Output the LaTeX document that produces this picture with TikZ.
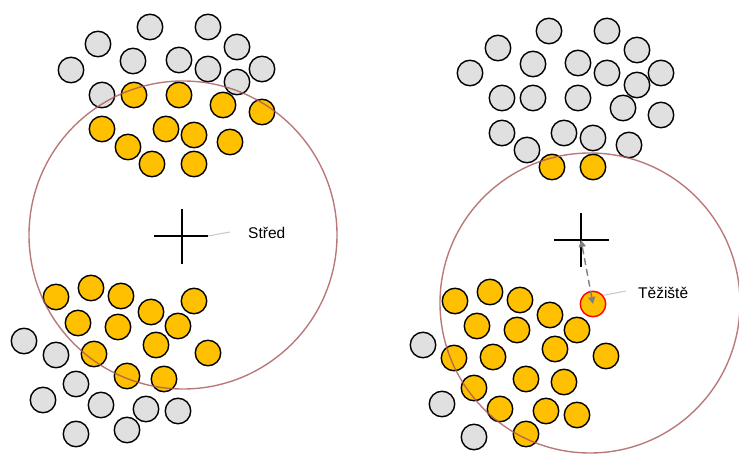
\documentclass[tikz,border=0pt]{standalone}
\usepackage{fontspec}
\setmainfont{Liberation Sans}
\usetikzlibrary{arrows.meta}
\definecolor{dotgold}{HTML}{FFC000}
\definecolor{dotgrey}{HTML}{E0E0E0}
\definecolor{rimred}{HTML}{A85858}
\definecolor{guide}{HTML}{808080}
\begin{document}
\begin{tikzpicture}[x=1pt,y=-1pt,
  dot/.style={circle,draw=black,line width=1.4pt,minimum size=25.5pt,inner sep=0pt},
  gold/.style={dot,fill=dotgold},
  grey/.style={dot,fill=dotgrey},
  rim/.style={circle,draw=rimred,draw opacity=0.8,line width=1.4pt,inner sep=0pt},
  crossbar/.style={line width=2.2pt,black},
  leader/.style={draw=black!22,line width=1pt},
  guidearrow/.style={draw=guide,line width=1.4pt,dash pattern=on 7pt off 4pt,
    {Triangle[length=7pt,width=7pt]}-{Triangle[length=7pt,width=7pt]}},
  lbl/.style={font=\fontsize{15.5}{18}\selectfont,anchor=base west,inner sep=0pt}]
\useasboundingbox (0,0) rectangle (739,454);

% ---- left panel: grey particles
\foreach \x/\y [count=\i] in {150/27,208/27,98/44,237/47,71/70,133/61,179/60,208/69,262/69,237/82,102/95,
  24/341,56/355,76/384,43/400,101/405,146/409,178/411,76/434,127/430}
  \node[grey] (lg\i) at (\x,\y) {};
% ---- left panel: gold particles
\foreach \x/\y [count=\i] in {134/95,179/95,223/105,262/112,102/129,166/129,194/135,230/142,128/147,152/164,194/164,
  56/297,91/288,121/296,151/312,194/301,78/323,118/327,178/326,156/345,208/353,94/354,127/376,164/379}
  \node[gold] (lo\i) at (\x,\y) {};

% ---- right panel: grey particles
\foreach \x/\y [count=\i] in {549/31,607/31,498/48,637/50,470/73,533/64,578/63,607/73,661/73,637/85,
  502/98,533/98,578/98,623/108,661/115,502/133,564/133,593/138,629/145,527/150,
  423/345,442/404,474/437}
  \node[grey] (rg\i) at (\x,\y) {};
% ---- right panel: gold particles
\foreach \x/\y [count=\i] in {552/167,593/167,
  455/301,490/292,520/300,550/315,577/330,477/326,517/330,555/349,606/356,454/358,493/357,
  526/379,564/382,474/388,500/409,546/411,577/415,526/434}
  \node[gold] (ro\i) at (\x,\y) {};
% highlighted particle
\node[dot,fill=dotgold,draw=red] (hub) at (593,304) {};

% ---- selection circles, drawn over the particles
\node[rim,minimum size=308pt] (zoneA) at (183,235) {};
\node[rim,minimum size=300pt] (zoneB) at (590,303) {};

% ---- left centre mark and label
\coordinate (midA) at (182,236);
\draw[crossbar] ([xshift=-28pt]midA) -- ([xshift=26pt]midA);
\draw[crossbar] ([yshift=27pt]midA) -- ([yshift=-28pt]midA);
\node[lbl] (labA) at (248,239) {Střed};
\coordinate (tipA) at (230,232);
\draw[leader] ([xshift=26pt]midA) -- (tipA);

% ---- right centre mark, centroid arrow and label
\coordinate (midB) at (581,240);
\draw[crossbar] ([xshift=-27pt]midB) -- ([xshift=28pt]midB);
\draw[crossbar] ([yshift=27pt]midB) -- ([yshift=-27pt]midB);
\draw[guidearrow] (hub.center) -- (midB);
\node[lbl] (labB) at (638,299) {Těžiště};
\coordinate (tipB) at (626,291);
\draw[leader] (hub.40) -- (tipB);
\end{tikzpicture}
\end{document}
